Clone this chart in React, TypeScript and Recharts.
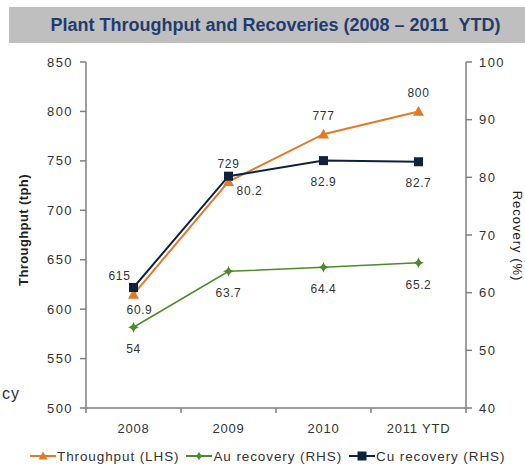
import React from 'react';
import { LineChart, Line, XAxis, YAxis, Legend, LabelList } from 'recharts';

const categories = ['2008', '2009', '2010', '2011 YTD'];
const throughput = [615, 729, 777, 800];
const auRecovery = [54, 63.7, 64.4, 65.2];
const cuRecovery = [60.9, 80.2, 82.9, 82.7];
const leftTicks = [500, 550, 600, 650, 700, 750, 800, 850];
const rightTicks = [40, 50, 60, 70, 80, 90, 100];

const data = categories.map((c, i) => ({
  year: c,
  throughput: throughput[i],
  au: auRecovery[i],
  cu: cuRecovery[i],
}));

const ORANGE = '#E27A27';
const GREEN = '#4E8A2C';
const NAVY = '#0D223F';
const AXIS = '#7F7F7F';
const TEXT = '#333333';
const FONT = '"Liberation Sans", Arial, sans-serif';

const Tri = ({ cx, cy, size = 5.5 }: any) => (
  <polygon
    points={`${cx},${cy - size} ${cx + size},${cy + size * 0.8} ${cx - size},${cy + size * 0.8}`}
    fill={ORANGE}
  />
);
const Sq = ({ cx, cy, size = 4.5 }: any) => (
  <rect x={cx - size} y={cy - size} width={size * 2} height={size * 2} fill={NAVY} />
);
const Dia = ({ cx, cy, size = 5.5 }: any) => (
  <path
    d={`M${cx},${cy - size} Q${cx + 1},${cy - 1} ${cx + size},${cy} Q${cx + 1},${cy + 1} ${cx},${cy + size} Q${cx - 1},${cy + 1} ${cx - size},${cy} Q${cx - 1},${cy - 1} ${cx},${cy - size}Z`}
    fill={GREEN}
  />
);

const labelStyle = { fontFamily: FONT, fontSize: 12, fill: TEXT, letterSpacing: 0.6 };

const makeLabel = (dy: number, nudge: (i: number) => [number, number]) => (props: any) => {
  const { x, y, value, index } = props;
  const [nx, ny] = nudge(index);
  return (
    <text
      x={x + nx}
      y={y + dy + ny}
      textAnchor="middle"
      dominantBaseline="central"
      style={labelStyle as any}
    >
      {value}
    </text>
  );
};

const tpLabel = makeLabel(-18, (i) => (i === 0 ? [-14, 0] : [0, 0]));
const cuLabel = makeLabel(21, (i) => (i === 0 ? [6, 2] : i === 1 ? [21, -6] : [0, 0]));
const auLabel = makeLabel(22, () => [0, 0]);

const XTick = (props: any) => {
  const { x, y, payload, index, visibleTicksCount } = props;
  const n = visibleTicksCount || 4;
  const band = 380 / n;
  return (
    <g>
      <line x1={x - band / 2} x2={x - band / 2} y1={y} y2={y + 5} stroke={AXIS} strokeWidth={1.5} />
      {index === n - 1 && (
        <line x1={x + band / 2} x2={x + band / 2} y1={y} y2={y + 5} stroke={AXIS} strokeWidth={1.5} />
      )}
      <text
        x={x}
        y={y + 20}
        textAnchor="middle"
        dominantBaseline="central"
        style={{ fontFamily: FONT, fontSize: 13, fill: TEXT, letterSpacing: 0.8 }}
      >
        {payload.value}
      </text>
    </g>
  );
};

const legendItems = [
  { name: 'Throughput (LHS)', color: ORANGE, Marker: Tri },
  { name: 'Au recovery (RHS)', color: GREEN, Marker: Dia },
  { name: 'Cu recovery (RHS)', color: NAVY, Marker: Sq },
];

const LegendContent = () => (
  <div
    style={{
      display: 'flex',
      alignItems: 'center',
      height: 20,
      paddingLeft: 4,
      fontFamily: FONT,
      fontSize: 13.5,
      color: TEXT,
      letterSpacing: 0.9,
      whiteSpace: 'nowrap',
    }}
  >
    {legendItems.map((it, i) => (
      <div key={i} style={{ display: 'flex', alignItems: 'center', marginRight: 7 }}>
        <svg width={26} height={14} style={{ marginRight: 1 }}>
          <line x1={0} x2={26} y1={7} y2={7} stroke={it.color} strokeWidth={2} />
          <it.Marker cx={13} cy={7} size={4.5} />
        </svg>
        <span>{it.name}</span>
      </div>
    ))}
  </div>
);

export default function App() {
  return (
    <div style={{ position: 'absolute', left: 0, top: 0, width: 525, height: 472, background: '#fff' }}>
      <div
        style={{
          position: 'absolute',
          left: 9,
          top: 7,
          width: 516,
          height: 36,
          background: '#BFBFBF',
          display: 'flex',
          alignItems: 'center',
          justifyContent: 'center',
          paddingLeft: 17,
          boxSizing: 'border-box',
          fontFamily: FONT,
          fontWeight: 'bold',
          fontSize: 18,
          color: '#1F3C6E',
          whiteSpace: 'nowrap',
        }}
      >
        Plant Throughput and Recoveries (2008 – 2011&nbsp;&nbsp;YTD)
      </div>
      <div
        style={{
          position: 'absolute',
          left: 2,
          top: 385,
          fontFamily: FONT,
          fontSize: 16,
          color: '#1F2F4F',
          letterSpacing: 1,
        }}
      >
        cy
      </div>
      <div style={{ position: 'absolute', left: 0, top: 0 }}>
        <LineChart
          width={525}
          height={472}
          data={data}
          margin={{ top: 62, right: 9, bottom: 6, left: 26 }}
        >
          <XAxis
            dataKey="year"
            scale="band"
            axisLine={{ stroke: AXIS, strokeWidth: 1.5 }}
            tickLine={false}
            tickSize={0}
            tickMargin={0}
            height={38}
            tick={<XTick />}
            interval={0}
          />
          <YAxis
            yAxisId="left"
            orientation="left"
            width={60}
            domain={[500, 850]}
            ticks={leftTicks}
            interval={0}
            axisLine={{ stroke: AXIS, strokeWidth: 1.5 }}
            tickLine={{ stroke: AXIS, strokeWidth: 1.5 }}
            tickSize={6}
            tickMargin={7}
            tick={{ fontFamily: FONT, fontSize: 13, fill: TEXT, letterSpacing: 1.4 } as any}
            label={(p: any) => {
              const vb = p.viewBox;
              const cx = vb.x - 3;
              const cy = vb.y + vb.height / 2 - 5;
              return (
                <text
                  x={cx}
                  y={cy}
                  transform={`rotate(-90, ${cx}, ${cy})`}
                  textAnchor="middle"
                  dominantBaseline="central"
                  style={{ fontFamily: FONT, fontSize: 13, fontWeight: 'bold', fill: '#222', letterSpacing: 0.4 }}
                >
                  Throughput (tph)
                </text>
              );
            }}
          />
          <YAxis
            yAxisId="right"
            orientation="right"
            width={50}
            domain={[40, 100]}
            ticks={rightTicks}
            interval={0}
            axisLine={{ stroke: AXIS, strokeWidth: 1.5 }}
            tickLine={{ stroke: AXIS, strokeWidth: 1.5 }}
            tickSize={6}
            tickMargin={7}
            tick={{ fontFamily: FONT, fontSize: 13, fill: TEXT, letterSpacing: 1.4 } as any}
            label={(p: any) => {
              const vb = p.viewBox;
              const cx = vb.x + 51;
              const cy = vb.y + vb.height / 2 + 1;
              return (
                <text
                  x={cx}
                  y={cy}
                  transform={`rotate(90, ${cx}, ${cy})`}
                  textAnchor="middle"
                  dominantBaseline="central"
                  style={{ fontFamily: FONT, fontSize: 13, fill: '#222', letterSpacing: 1 }}
                >
                  Recovery (%)
                </text>
              );
            }}
          />
          <Legend verticalAlign="bottom" align="left" height={20} content={<LegendContent />} />
          <Line
            yAxisId="left"
            dataKey="throughput"
            name="Throughput (LHS)"
            stroke={ORANGE}
            strokeWidth={2}
            dot={(p: any) => <Tri key={p.index} cx={p.cx} cy={p.cy} />}
            activeDot={false}
            isAnimationActive={false}
          >
            <LabelList dataKey="throughput" content={tpLabel} />
          </Line>
          <Line
            yAxisId="right"
            dataKey="au"
            name="Au recovery (RHS)"
            stroke={GREEN}
            strokeWidth={1.5}
            dot={(p: any) => <Dia key={p.index} cx={p.cx} cy={p.cy} />}
            activeDot={false}
            isAnimationActive={false}
          >
            <LabelList dataKey="au" content={auLabel} />
          </Line>
          <Line
            yAxisId="right"
            dataKey="cu"
            name="Cu recovery (RHS)"
            stroke={NAVY}
            strokeWidth={2}
            dot={(p: any) => <Sq key={p.index} cx={p.cx} cy={p.cy} />}
            activeDot={false}
            isAnimationActive={false}
          >
            <LabelList dataKey="cu" content={cuLabel} />
          </Line>
        </LineChart>
      </div>
    </div>
  );
}
